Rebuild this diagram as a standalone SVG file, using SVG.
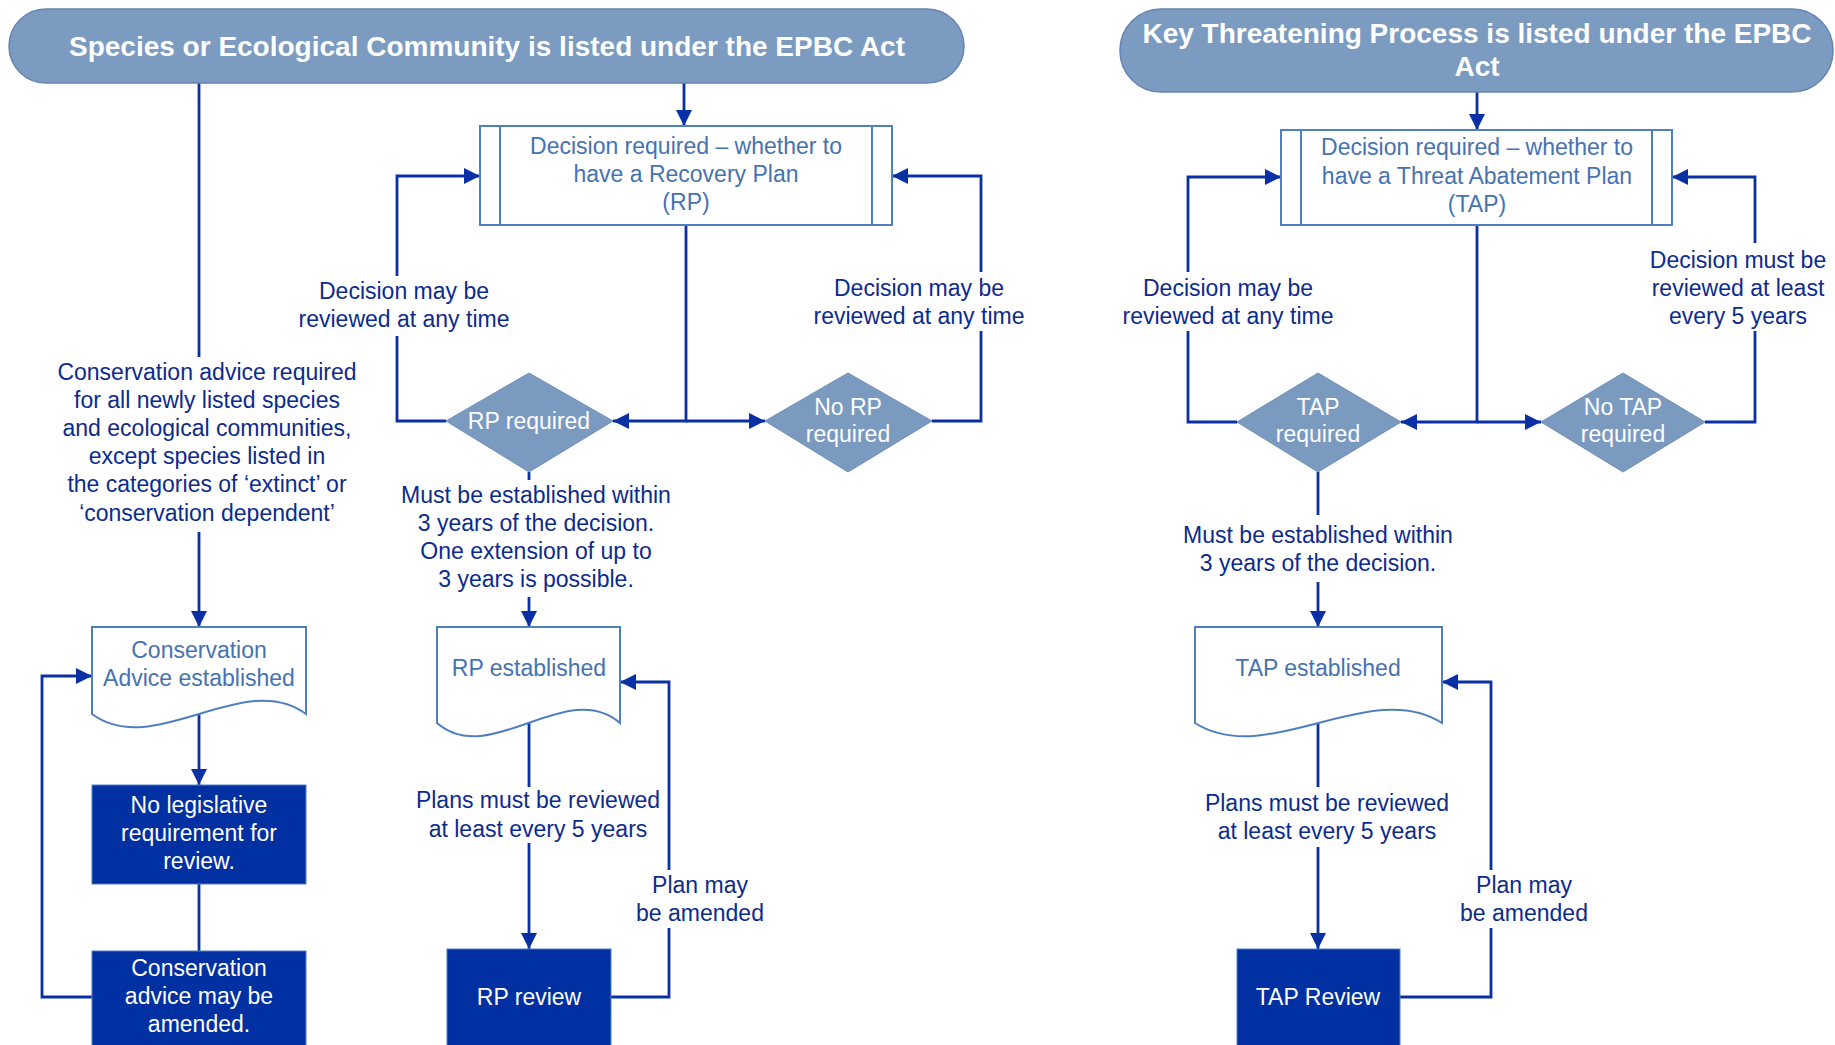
<svg xmlns="http://www.w3.org/2000/svg" width="1835" height="1045" viewBox="0 0 1835 1045">
<style>
  .bg{fill:#ffffff}
  .pill{fill:#7b9bc1;stroke:#6585b0;stroke-width:1.5}
  .ttl{font-family:"Liberation Sans",Arial,sans-serif;font-weight:bold;font-size:28px;fill:#ffffff;text-anchor:middle}
  .dbox{fill:#ffffff;stroke:#4f7fc0;stroke-width:2}
  .dtxt{font-family:"Liberation Sans",Arial,sans-serif;font-size:23px;fill:#4672b0;text-anchor:middle}
  .dia{fill:#7b9ac0;stroke:#6e8fb8;stroke-width:1}
  .wtxt{font-family:"Liberation Sans",Arial,sans-serif;font-size:23px;fill:#ffffff;text-anchor:middle}
  .dark{fill:#0030a1;stroke:#4f7fc0;stroke-width:1}
  .lbl{font-family:"Liberation Sans",Arial,sans-serif;font-size:23px;fill:#0c2b8e;text-anchor:middle}
  .con{fill:none;stroke:#0a30a6;stroke-width:2.8}
</style>
<defs>
  <marker id="arr" viewBox="0 0 10 10" refX="10" refY="5" markerWidth="16" markerHeight="16" markerUnits="userSpaceOnUse" orient="auto">
    <path d="M0,0 L10,5 L0,10 z" fill="#0a30a6"/>
  </marker>
</defs>
<rect class="bg" x="0" y="0" width="1835" height="1045"/>

<g id="connectors">
  <path class="con" d="M684 83 V126" marker-end="url(#arr)"/>
  <path class="con" d="M199 83 V357"/>
  <path class="con" d="M199 532 V627" marker-end="url(#arr)"/>
  <path class="con" d="M199 714 V785" marker-end="url(#arr)"/>
  <path class="con" d="M199 884 V951"/>
  <path class="con" d="M92 997 H42 V676 H92" marker-end="url(#arr)"/>
  <path class="con" d="M686 225 V421 H613" marker-end="url(#arr)"/>
  <path class="con" d="M686 421 H765" marker-end="url(#arr)"/>
  <path class="con" d="M446 421 H397 V336"/>
  <path class="con" d="M397 276 V176 H480" marker-end="url(#arr)"/>
  <path class="con" d="M932 421 H981 V331"/>
  <path class="con" d="M981 272 V176 H892" marker-end="url(#arr)"/>
  <path class="con" d="M529 472 V480"/>
  <path class="con" d="M529 597 V627" marker-end="url(#arr)"/>
  <path class="con" d="M529 723 V787"/>
  <path class="con" d="M529 843 V949" marker-end="url(#arr)"/>
  <path class="con" d="M611 997 H669 V928"/>
  <path class="con" d="M669 870 V682 H620" marker-end="url(#arr)"/>
  <path class="con" d="M1477 92 V130" marker-end="url(#arr)"/>
  <path class="con" d="M1477 225 V422 H1401" marker-end="url(#arr)"/>
  <path class="con" d="M1477 422 H1541" marker-end="url(#arr)"/>
  <path class="con" d="M1237 422 H1188 V331"/>
  <path class="con" d="M1188 272 V177 H1281" marker-end="url(#arr)"/>
  <path class="con" d="M1705 422 H1755 V331"/>
  <path class="con" d="M1755 243 V177 H1672" marker-end="url(#arr)"/>
  <path class="con" d="M1318 472 V515"/>
  <path class="con" d="M1318 582 V627" marker-end="url(#arr)"/>
  <path class="con" d="M1318 723 V787"/>
  <path class="con" d="M1318 847 V949" marker-end="url(#arr)"/>
  <path class="con" d="M1400 997 H1491 V928"/>
  <path class="con" d="M1491 870 V682 H1442" marker-end="url(#arr)"/>
</g>

<g id="labels">
  <text class="lbl"><tspan x="207" y="380">Conservation advice required</tspan><tspan x="207" y="408">for all newly listed species</tspan><tspan x="207" y="436">and ecological communities,</tspan><tspan x="207" y="464">except species listed in</tspan><tspan x="207" y="492">the categories of ‘extinct’ or</tspan><tspan x="207" y="521">‘conservation dependent’</tspan></text>
  <text class="lbl"><tspan x="404" y="299">Decision may be</tspan><tspan x="404" y="327">reviewed at any time</tspan></text>
  <text class="lbl"><tspan x="919" y="296">Decision may be</tspan><tspan x="919" y="324">reviewed at any time</tspan></text>
  <text class="lbl"><tspan x="536" y="503">Must be established within</tspan><tspan x="536" y="531">3 years of the decision.</tspan><tspan x="536" y="559">One extension of up to</tspan><tspan x="536" y="587">3 years is possible.</tspan></text>
  <text class="lbl"><tspan x="538" y="808">Plans must be reviewed</tspan><tspan x="538" y="837">at least every 5 years</tspan></text>
  <text class="lbl"><tspan x="700" y="893">Plan may</tspan><tspan x="700" y="921">be amended</tspan></text>
  <text class="lbl"><tspan x="1228" y="296">Decision may be</tspan><tspan x="1228" y="324">reviewed at any time</tspan></text>
  <text class="lbl"><tspan x="1738" y="268">Decision must be</tspan><tspan x="1738" y="296">reviewed at least</tspan><tspan x="1738" y="324">every 5 years</tspan></text>
  <text class="lbl"><tspan x="1318" y="543">Must be established within</tspan><tspan x="1318" y="571">3 years of the decision.</tspan></text>
  <text class="lbl"><tspan x="1327" y="811">Plans must be reviewed</tspan><tspan x="1327" y="839">at least every 5 years</tspan></text>
  <text class="lbl"><tspan x="1524" y="893">Plan may</tspan><tspan x="1524" y="921">be amended</tspan></text>
</g>

<g id="species-listed">
  <rect class="pill" x="9" y="9" width="955" height="74" rx="37" ry="37"/>
  <text class="ttl" x="487" y="56">Species or Ecological Community is listed under the EPBC Act</text>
</g>

<g id="ktp-listed">
  <rect class="pill" x="1120" y="9" width="713" height="83" rx="41" ry="41"/>
  <text class="ttl"><tspan x="1477" y="43">Key Threatening Process is listed under the EPBC</tspan><tspan x="1477" y="76">Act</tspan></text>
</g>

<g id="rp-decision">
  <rect class="dbox" x="480" y="126" width="412" height="99"/>
  <line class="dbox" x1="500" y1="126" x2="500" y2="225"/>
  <line class="dbox" x1="872" y1="126" x2="872" y2="225"/>
  <text class="dtxt"><tspan x="686" y="154">Decision required – whether to</tspan><tspan x="686" y="182">have a Recovery Plan</tspan><tspan x="686" y="210">(RP)</tspan></text>
</g>

<g id="rp-required">
  <polygon class="dia" points="529,373 613,421 529,472 446,421"/>
  <text class="wtxt" x="529" y="429">RP required</text>
</g>

<g id="no-rp">
  <polygon class="dia" points="848,373 932,421 848,472 765,421"/>
  <text class="wtxt"><tspan x="848" y="415">No RP</tspan><tspan x="848" y="442">required</tspan></text>
</g>

<g id="ca-established">
  <path class="dbox" d="M92 627 H306 V714 C244 668, 154 760, 92 714 Z"/>
  <text class="dtxt"><tspan x="199" y="658">Conservation</tspan><tspan x="199" y="686">Advice established</tspan></text>
</g>

<g id="no-legislative">
  <rect class="dark" x="92" y="785" width="214" height="99"/>
  <text class="wtxt"><tspan x="199" y="813">No legislative</tspan><tspan x="199" y="841">requirement for</tspan><tspan x="199" y="869">review.</tspan></text>
</g>

<g id="ca-amended">
  <rect class="dark" x="92" y="951" width="214" height="110"/>
  <text class="wtxt"><tspan x="199" y="976">Conservation</tspan><tspan x="199" y="1004">advice may be</tspan><tspan x="199" y="1032">amended.</tspan></text>
</g>

<g id="rp-established">
  <path class="dbox" d="M437 627 H620 V723 C567 677, 490 769, 437 723 Z"/>
  <text class="dtxt" x="529" y="676">RP established</text>
</g>

<g id="rp-review">
  <rect class="dark" x="447" y="949" width="164" height="110"/>
  <text class="wtxt" x="529" y="1005">RP review</text>
</g>

<g id="tap-decision">
  <rect class="dbox" x="1281" y="130" width="391" height="95"/>
  <line class="dbox" x1="1301" y1="130" x2="1301" y2="225"/>
  <line class="dbox" x1="1652" y1="130" x2="1652" y2="225"/>
  <text class="dtxt"><tspan x="1477" y="155">Decision required – whether to</tspan><tspan x="1477" y="184">have a Threat Abatement Plan</tspan><tspan x="1477" y="212">(TAP)</tspan></text>
</g>

<g id="tap-required">
  <polygon class="dia" points="1318,373 1401,422 1318,472 1237,422"/>
  <text class="wtxt"><tspan x="1318" y="415">TAP</tspan><tspan x="1318" y="442">required</tspan></text>
</g>

<g id="no-tap">
  <polygon class="dia" points="1623,373 1705,422 1623,472 1541,422"/>
  <text class="wtxt"><tspan x="1623" y="415">No TAP</tspan><tspan x="1623" y="442">required</tspan></text>
</g>

<g id="tap-established">
  <path class="dbox" d="M1195 627 H1442 V723 C1370 677, 1267 769, 1195 723 Z"/>
  <text class="dtxt" x="1318" y="676">TAP established</text>
</g>

<g id="tap-review">
  <rect class="dark" x="1237" y="949" width="163" height="110"/>
  <text class="wtxt" x="1318" y="1005">TAP Review</text>
</g>
</svg>
